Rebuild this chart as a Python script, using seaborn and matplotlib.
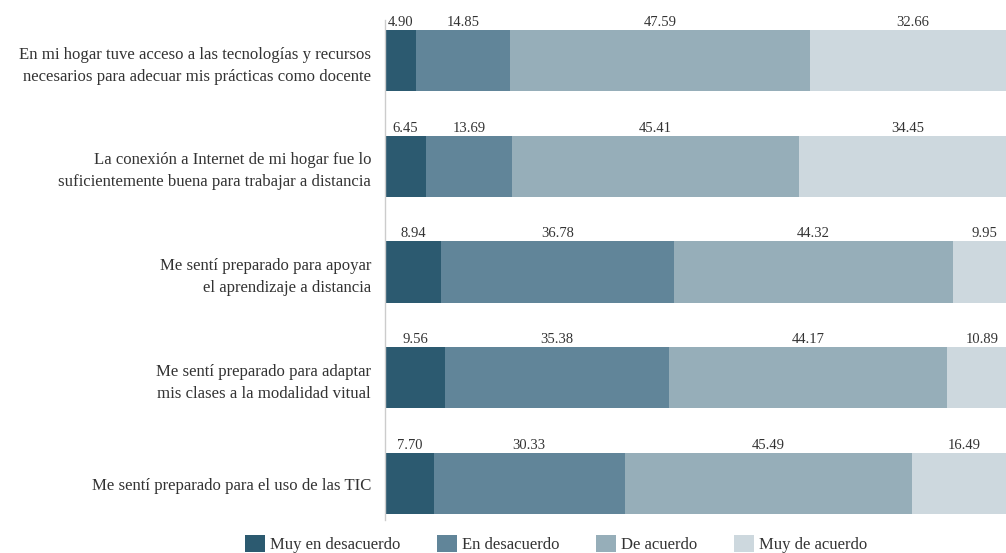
import numpy as np
import pandas as pd
import seaborn as sns
import matplotlib.pyplot as plt
from matplotlib.patches import Patch

# --- data ---
categories = [
    "En mi hogar tuve acceso a las tecnologías y recursos\nnecesarios para adecuar mis prácticas como docente",
    "La conexión a Internet de mi hogar fue lo\nsuficientemente buena para trabajar a distancia",
    "Me sentí preparado para apoyar\nel aprendizaje a distancia",
    "Me sentí preparado para adaptar\nmis clases a la modalidad vitual",
    "Me sentí preparado para el uso de las TIC",
]
series = ["Muy en desacuerdo", "En desacuerdo", "De acuerdo", "Muy de acuerdo"]
muy_desacuerdo = [4.90, 6.45, 8.94, 9.56, 7.70]
desacuerdo = [14.85, 13.69, 36.78, 35.38, 30.33]
de_acuerdo = [47.59, 45.41, 44.32, 44.17, 45.49]
muy_acuerdo = [32.66, 34.45, 9.95, 10.89, 16.49]

colors = ["#2c5a70", "#618599", "#96aeb9", "#cdd8de"]

df = pd.DataFrame({
    "Categoria": categories,
    series[0]: muy_desacuerdo,
    series[1]: desacuerdo,
    series[2]: de_acuerdo,
    series[3]: muy_acuerdo,
})
cum = df[series].cumsum(axis=1)

sns.set_style("white")
plt.rcParams["font.family"] = ["Liberation Serif", "DejaVu Serif"]

fig = plt.figure(figsize=(10.06, 5.53), dpi=100)
ax = fig.add_axes([385 / 1006, 1 - 520 / 553, 1 - 385 / 1006, 500 / 553])

bar_h = 0.577
# stacked bars: draw cumulative totals from largest to smallest
for s, c in reversed(list(zip(series, colors))):
    sns.barplot(x=cum[s], y=df["Categoria"], color=c, orient="h",
                width=bar_h, ax=ax, saturation=1, linewidth=0)

# value labels centred on each segment
for i in range(len(categories)):
    left = 0
    for s in series:
        v = df.loc[i, s]
        ax.text(left + v / 2, i - bar_h / 2 - 0.04, f"{v:.2f}",
                ha="center", va="baseline", fontsize=10.5, color="#333333")
        left += v

ax.set_xlim(0, 98.4)
ax.set_ylim(4.345, -0.383)
ax.set_xlabel("")
ax.set_ylabel("")
ax.set_xticks([])
ax.tick_params(axis="y", length=0, pad=10, labelsize=12.1, labelcolor="#333333")
for lbl in ax.get_yticklabels():
    lbl.set_linespacing(1.5)
    lbl.set_y(lbl.get_position()[1])
for side in ["top", "right", "bottom"]:
    ax.spines[side].set_visible(False)
ax.spines["left"].set_color("#cccccc")
ax.spines["left"].set_linewidth(1)

handles = [Patch(facecolor=c, edgecolor="none", label=s) for s, c in zip(series, colors)]
fig.legend(handles=handles, loc="lower center", bbox_to_anchor=(0.553, -0.027),
           ncol=4, frameon=False, fontsize=12, handlelength=1.2, handleheight=1.2,
           handletextpad=0.3, columnspacing=2.2, labelcolor="#333333")

fig.savefig("out.png", dpi=100)
